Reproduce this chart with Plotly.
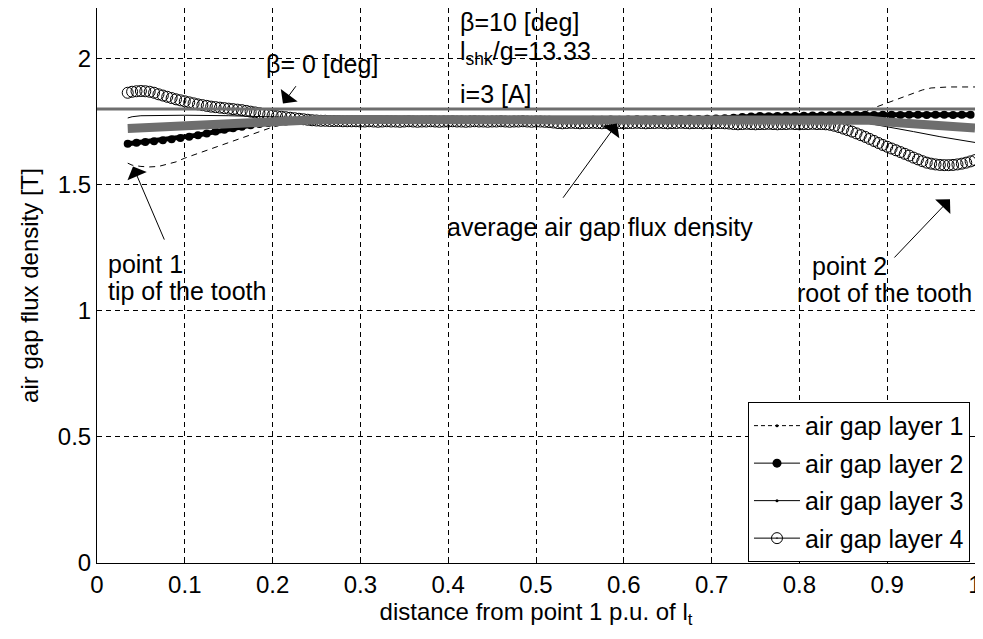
import plotly.graph_objects as go

FONT = "Liberation Sans, Arial, sans-serif"
FS = 25
TFS = 24
BLACK = "#000000"
GRAY = "#6e6e6e"

# ---- tick labels ----
X_TICKS = [0, 0.1, 0.2, 0.3, 0.4, 0.5, 0.6, 0.7, 0.8, 0.9, 1]
X_TICKTEXT = ["0", "0.1", "0.2", "0.3", "0.4", "0.5", "0.6", "0.7", "0.8", "0.9", "1"]
Y_TICKS = [0, 0.5, 1, 1.5, 2]
Y_TICKTEXT = ["0", "0.5", "1", "1.5", "2"]

# ---- air gap layer 1 (dashed) ----
L1_X = [0.035, 0.04, 0.05, 0.06, 0.07, 0.08, 0.09, 0.10, 0.12, 0.14, 0.16, 0.18, 0.20, 0.22, 0.25,
        0.30, 0.40, 0.50, 0.60, 0.70, 0.80, 0.85, 0.87, 0.89, 0.91, 0.93, 0.94, 0.95, 0.97, 1.0]
L1_Y = [1.585, 1.577, 1.572, 1.570, 1.572, 1.580, 1.590, 1.605, 1.630, 1.655, 1.680, 1.705, 1.728, 1.745, 1.752,
        1.755, 1.755, 1.755, 1.755, 1.757, 1.760, 1.770, 1.785, 1.810, 1.835, 1.860, 1.875, 1.883, 1.887, 1.887]

# ---- air gap layer 2 (filled dots) ----
L2_X = [round(0.035 + 0.01 * i, 3) for i in range(97)]
L2_Y = [1.662, 1.666, 1.669, 1.672, 1.676, 1.680, 1.685, 1.690, 1.696, 1.703,
        1.710, 1.717, 1.723, 1.729, 1.735, 1.740, 1.744, 1.747, 1.750, 1.752,
        1.753, 1.754,
        1.755, 1.755, 1.756, 1.756, 1.756, 1.757, 1.756, 1.756, 1.757, 1.756,
        1.756, 1.755, 1.756, 1.756, 1.757, 1.756, 1.756, 1.757, 1.756, 1.756,
        1.755, 1.756, 1.756, 1.757, 1.756, 1.756, 1.757, 1.756, 1.756, 1.755,
        1.756, 1.757, 1.757, 1.758, 1.757, 1.758, 1.759, 1.758, 1.759, 1.760,
        1.759, 1.760, 1.761, 1.760, 1.761, 1.762, 1.763,
        1.765, 1.768, 1.770, 1.772, 1.771, 1.772, 1.773, 1.772, 1.773, 1.774,
        1.774, 1.775, 1.775,
        1.776, 1.776, 1.777, 1.776, 1.777, 1.777, 1.776, 1.777, 1.777, 1.776,
        1.777, 1.777, 1.776, 1.777, 1.777]

# ---- air gap layer 3 (thin solid) ----
L3_X = [0.035, 0.04, 0.05, 0.07, 0.10, 0.15, 0.20, 0.25, 0.30, 0.50, 0.70, 0.85, 0.87, 0.90, 0.93, 0.96, 1.0]
L3_Y = [1.764, 1.769, 1.773, 1.775, 1.775, 1.773, 1.768, 1.762, 1.759, 1.758, 1.758, 1.758, 1.748, 1.730,
        1.710, 1.690, 1.667]

# ---- air gap layer 4 (open circles) ----
L4_X = [round(0.035 + 0.005 * i, 3) for i in range(194)]
L4_Y = [1.864, 1.868, 1.870, 1.871, 1.870, 1.868, 1.864, 1.858, 1.853, 1.848,
        1.843, 1.838, 1.834, 1.830, 1.826, 1.822, 1.818, 1.815, 1.812, 1.809,
        1.807, 1.805, 1.803, 1.801, 1.799, 1.797, 1.795, 1.792, 1.789, 1.786,
        1.783, 1.780, 1.777, 1.774, 1.771, 1.769, 1.767, 1.765, 1.763, 1.761,
        1.759, 1.757, 1.755, 1.754,
        1.753, 1.753, 1.752, 1.752, 1.752, 1.751, 1.751, 1.751, 1.751, 1.750,
        1.750, 1.751, 1.750, 1.749, 1.750, 1.751, 1.750, 1.750, 1.749, 1.750,
        1.751, 1.750, 1.749, 1.750, 1.750, 1.751, 1.750, 1.749, 1.750, 1.750,
        1.751, 1.750, 1.750, 1.749, 1.750, 1.751, 1.750, 1.750, 1.749, 1.750,
        1.750, 1.751, 1.750, 1.749, 1.750, 1.750, 1.751, 1.750, 1.749, 1.750,
        1.750, 1.749, 1.748, 1.746,
        1.744, 1.743, 1.744, 1.745, 1.744, 1.743, 1.744, 1.744, 1.745, 1.744,
        1.743, 1.744, 1.744, 1.745, 1.744, 1.743, 1.744, 1.744, 1.745, 1.744,
        1.743, 1.744, 1.744, 1.745, 1.744, 1.743, 1.744, 1.744, 1.745, 1.744,
        1.743, 1.744, 1.744, 1.743, 1.744, 1.743, 1.744, 1.744, 1.743, 1.742,
        1.740, 1.739, 1.740, 1.741, 1.740, 1.739, 1.740, 1.740, 1.741, 1.740,
        1.739, 1.740, 1.740, 1.741, 1.740, 1.739, 1.740, 1.740, 1.741, 1.740, 1.740,
        1.739, 1.737, 1.733, 1.728, 1.722, 1.716, 1.710, 1.703, 1.696, 1.689,
        1.681, 1.673, 1.665, 1.657, 1.650, 1.643, 1.636, 1.629, 1.622, 1.615,
        1.607, 1.600, 1.593, 1.587, 1.583, 1.580, 1.578, 1.577, 1.577, 1.578,
        1.580, 1.583, 1.587, 1.592, 1.597]

# ---- thick grey curve ----
G_X = [0.035, 0.06, 0.10, 0.15, 0.20, 0.25, 0.30, 0.40, 0.50, 0.60, 0.70, 0.80, 0.85, 0.88, 0.90, 0.95, 1.0]
G_Y = [1.722, 1.727, 1.735, 1.745, 1.753, 1.757, 1.758, 1.758, 1.758, 1.759, 1.759, 1.760, 1.760, 1.755,
       1.748, 1.735, 1.724]

# ---- horizontal reference level ----
AVG_X = [0, 1]
AVG_Y = [1.8, 1.8]

assert len(L2_X) == len(L2_Y)
assert len(L4_X) == len(L4_Y), (len(L4_X), len(L4_Y))

fig = go.Figure()

fig.add_trace(go.Scatter(x=L1_X, y=L1_Y, mode="lines", showlegend=False,
                         line=dict(color=BLACK, width=1, dash="6px,5px")))
fig.add_trace(go.Scatter(x=L3_X, y=L3_Y, mode="lines", showlegend=False,
                         line=dict(color=BLACK, width=1)))
fig.add_trace(go.Scatter(x=L2_X, y=L2_Y, mode="lines+markers", showlegend=False,
                         line=dict(color=BLACK, width=5),
                         marker=dict(color=BLACK, size=8, symbol="circle")))
fig.add_trace(go.Scatter(x=L4_X, y=L4_Y, mode="markers", showlegend=False,
                         marker=dict(symbol="circle-open", size=11, color=BLACK, line=dict(width=1, color=BLACK))))
fig.add_trace(go.Scatter(x=G_X, y=G_Y, mode="lines", showlegend=False,
                         line=dict(color=GRAY, width=9)))
fig.add_trace(go.Scatter(x=AVG_X, y=AVG_Y, mode="lines", showlegend=False,
                         line=dict(color=GRAY, width=3)))

# legend entries
fig.add_trace(go.Scatter(x=[None], y=[None], mode="lines+markers", name="air gap layer 1", legendgroup="g1",
                         line=dict(color=BLACK, width=1, dash="4px,3px"),
                         marker=dict(color=BLACK, size=3)))
fig.add_trace(go.Scatter(x=[None], y=[None], mode="lines+markers", name="air gap layer 2", legendgroup="g2",
                         line=dict(color=BLACK, width=1),
                         marker=dict(color=BLACK, size=9)))
fig.add_trace(go.Scatter(x=[None], y=[None], mode="lines+markers", name="air gap layer 3", legendgroup="g3",
                         line=dict(color=BLACK, width=1),
                         marker=dict(color=BLACK, size=3)))
fig.add_trace(go.Scatter(x=[None], y=[None], mode="lines+markers", name="air gap layer 4", legendgroup="g4",
                         line=dict(color=BLACK, width=1),
                         marker=dict(symbol="circle-open-dot", size=11, color=BLACK, line=dict(width=1, color=BLACK))))

axis_common = dict(
    showline=True, linecolor=BLACK, linewidth=1, mirror="allticks",
    ticks="inside", ticklen=5, tickcolor=BLACK, tickwidth=1,
    showgrid=True, gridcolor=BLACK, gridwidth=1, griddash="5px,4px",
    zeroline=False, automargin=False,
    tickfont=dict(family=FONT, size=TFS, color=BLACK),
)

fig.update_xaxes(range=[0, 1], tickvals=X_TICKS, ticktext=X_TICKTEXT,
                 title=dict(text="distance from point 1 p.u. of l<sub>t</sub>",
                            font=dict(family=FONT, size=TFS, color=BLACK), standoff=2),
                 **axis_common)
fig.update_yaxes(range=[0, 2.2], tickvals=Y_TICKS, ticktext=Y_TICKTEXT,
                 title=dict(text="air gap flux density [T]",
                            font=dict(family=FONT, size=TFS, color=BLACK), standoff=12),
                 **axis_common)

ann_font = dict(family=FONT, size=FS, color=BLACK)
texts = [
    ("β= 0 [deg]", 0.190, 1.979, "left"),
    ("β=10 [deg]", 0.411, 2.145, "left"),
    ("l<sub>shk</sub>/g=13.33", 0.411, 2.022, "left"),
    ("i=3 [A]", 0.411, 1.861, "left"),
    ("average air gap flux density", 0.3964, 1.332, "left"),
    ("point 1", 0.0103, 1.186, "left"),
    ("tip of the tooth", 0.0103, 1.079, "left"),
    ("point 2", 0.812, 1.178, "left"),
    ("root of the tooth", 0.999, 1.071, "right"),
]
for t, x, y, anc in texts:
    fig.add_annotation(x=x, y=y, xref="x", yref="y", text=t, showarrow=False,
                       xanchor=anc, yanchor="middle", font=ann_font)

arrows = [
    (0.2278, 1.896, 0.2118, 1.821),
    (0.5296, 1.442, 0.5923, 1.742),
    (0.0774, 1.276, 0.0410, 1.572),
    (0.9066, 1.205, 0.9715, 1.442),
]
for ax, ay, x, y in arrows:
    fig.add_annotation(x=x, y=y, ax=ax, ay=ay, xref="x", yref="y", axref="x", ayref="y",
                       text="", showarrow=True, arrowhead=1, arrowsize=3.5, arrowwidth=1,
                       arrowcolor=BLACK)

# page body has an 8px margin: size the figure so the plot lands where the reference has it
fig.update_layout(
    width=975, height=631,
    margin=dict(l=89, r=8, t=0, b=76),
    paper_bgcolor="white", plot_bgcolor="white",
    font=dict(family=FONT, size=FS, color=BLACK),
    legend=dict(x=0.9943, y=0.002, xanchor="right", yanchor="bottom",
                bgcolor="white", bordercolor=BLACK, borderwidth=1,
                font=dict(family=FONT, size=FS, color=BLACK),
                itemwidth=46, tracegroupgap=2),
)

fig.write_html("out.html")
